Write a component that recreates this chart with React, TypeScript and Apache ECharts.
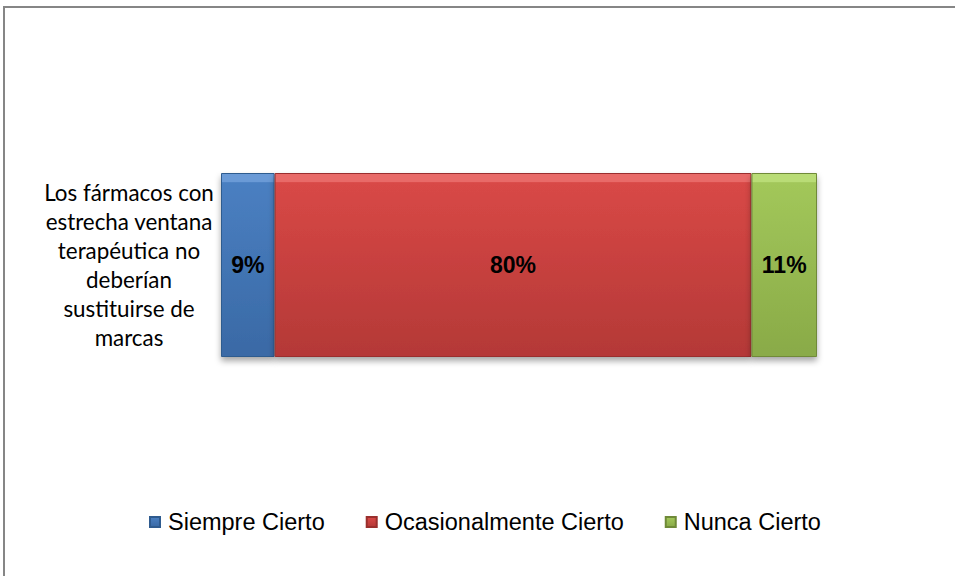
import React, { useEffect, useRef } from "react";
import * as echarts from "echarts";

const categories = [
  "Los fármacos con\nestrecha ventana\nterapéutica no\ndeberían\nsustituirse de\nmarcas",
];
const seriesNames = ["Siempre Cierto", "Ocasionalmente Cierto", "Nunca Cierto"];
const siempre = [9];
const ocasional = [80];
const nunca = [11];

const grad = (light: string, base: string, dark: string) =>
  new echarts.graphic.LinearGradient(0, 0, 0, 1, [
    { offset: 0, color: light },
    { offset: 0.045, color: light },
    { offset: 0.05, color: base },
    { offset: 0.97, color: dark },
    { offset: 1, color: dark },
  ]);

export default function App() {
  const ref = useRef<HTMLDivElement>(null);
  useEffect(() => {
    if (!ref.current) return;
    const chart = echarts.init(ref.current, null, { renderer: "svg" });
    const labelStyle = {
      show: true,
      position: "inside" as const,
      formatter: "{c}%",
      fontFamily: "Liberation Sans, Arial, sans-serif",
      fontWeight: "bold" as const,
      fontSize: 23,
      color: "#000",
    };
    const shadow = {
      shadowColor: "rgba(0,0,0,0.35)",
      shadowBlur: 6,
      shadowOffsetY: 4,
    };
    chart.setOption({
      animation: false,
      graphic: [
        {
          type: "rect",
          shape: { x: 4, y: 7, width: 1200, height: 800 },
          style: { fill: "none", stroke: "#868686", lineWidth: 2 },
          z: 100,
        },
      ],
      legend: {
        left: 149,
        top: 510,
        padding: 0,
        itemWidth: 10,
        itemHeight: 10,
        itemGap: 41,
        icon: "rect",
        textStyle: {
          fontFamily: "Liberation Sans, Arial, sans-serif",
          fontSize: 23.5,
          color: "#000",
          padding: [0, 0, 0, 3],
        },
        data: seriesNames,
      },
      grid: { left: 221, right: 138, top: 100, height: 330 },
      xAxis: { type: "value", min: 0, max: 100, show: false },
      yAxis: {
        type: "category",
        data: categories,
        axisLine: { show: false },
        axisTick: { show: false },
        axisLabel: {
          align: "center",
          margin: 92,
          fontFamily: "Lato, sans-serif",
          fontSize: 22.4,
          lineHeight: 29,
          color: "#000",
        },
      },
      series: [
        {
          name: seriesNames[0],
          type: "bar",
          stack: "t",
          barWidth: 184,
          data: siempre,
          label: labelStyle,
          itemStyle: {
            color: grad("#6a9ad6", "#4a7fc1", "#3a6aa6"),
            borderColor: "#2f5b8f",
            borderWidth: 1,
            ...shadow,
          },
        },
        {
          name: seriesNames[1],
          type: "bar",
          stack: "t",
          data: ocasional,
          label: labelStyle,
          itemStyle: {
            color: grad("#e86a68", "#d84846", "#b53937"),
            borderColor: "#9a2f2d",
            borderWidth: 1,
            ...shadow,
          },
        },
        {
          name: seriesNames[2],
          type: "bar",
          stack: "t",
          data: nunca,
          label: labelStyle,
          itemStyle: {
            color: grad("#b9dc76", "#a2c75a", "#8aab48"),
            borderColor: "#6f8a38",
            borderWidth: 1,
            ...shadow,
          },
        },
      ],
    });
    return () => chart.dispose();
  }, []);
  return (
    <div
      ref={ref}
      style={{ position: "fixed", left: 0, top: 0, width: 955, height: 576, background: "#fff" }}
    />
  );
}
